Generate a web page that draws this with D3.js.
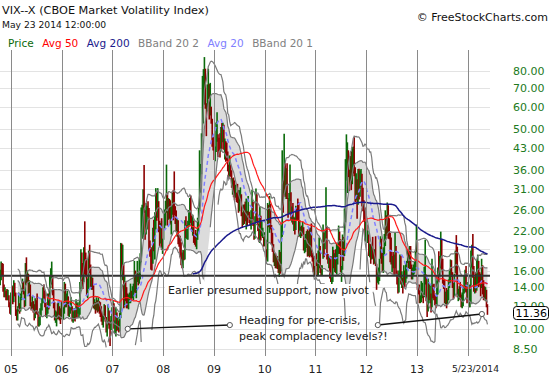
<!DOCTYPE html>
<html>
<head>
<meta charset="utf-8">
<script src="https://cdn.jsdelivr.net/npm/d3@7"></script>
<style>
  body { margin: 0; background: #fff; }
  svg { display: block; font-family: 'DejaVu Sans', Verdana, sans-serif; }
</style>
</head>
<body>
<div id="draw"></div>
<script>
// weekly VIX bars [high, low, close], one per Friday from Oct 8 2004 to May 23 2014
const w2004 = [[15.2,13.3,14.3],[16.1,14.2,15.0],[17.2,14.8,16.6],[17.0,15.4,16.3],[16.9,13.5,13.8],[14.3,12.9,13.3],[14.0,12.9,13.5],
  [13.6,12.6,13.0],[13.8,12.6,12.9],[13.7,12.6,12.9],[13.1,11.9,12.2],[12.4,11.3,11.8],[13.4,11.2,13.3]];
const w2005 = [[14.2,12.7,13.5],[14.1,12.2,12.4],[14.8,12.4,14.4],[14.5,13.0,13.3],[13.4,11.1,11.2],[11.7,10.7,11.0],[12.0,10.7,11.8],
  [13.4,11.5,12.0],[12.3,11.3,11.7],[13.3,11.5,13.0],[13.9,12.6,13.5],[15.0,13.5,14.3],[14.6,13.2,13.6],[13.8,11.9,12.0],
  [17.0,12.0,16.5],[17.8,14.4,15.1],[16.0,14.6,15.3],[15.6,13.2,13.4],[14.8,13.0,14.2],[14.3,12.0,12.2],[12.4,11.6,12.0],
  [13.0,11.8,12.3],[12.5,11.4,12.0],[12.2,10.7,11.0],[12.8,10.9,12.4],[12.6,11.3,11.9],[13.3,11.2,11.4],[11.5,10.2,10.3],
  [11.0,10.2,10.5],[11.8,10.3,11.6],[12.3,11.1,12.0],[12.8,11.6,12.5],[14.0,12.3,13.5],[14.3,12.8,13.2],[13.6,11.9,12.2],
  [12.4,11.0,11.2],[11.9,10.9,11.3],[13.3,11.3,12.9],[13.3,11.7,11.9],[15.3,12.0,14.1],[16.3,13.9,15.0],[17.2,14.3,15.5],
  [15.4,13.1,13.3],[13.8,11.8,12.1],[12.4,10.7,11.0],[11.6,10.5,11.2],[11.5,10.2,11.2],[12.3,10.8,11.0],[12.5,10.8,11.9],
  [12.0,10.7,11.0],[11.8,10.4,10.9],[12.4,10.8,12.1]];
const w2006 = [[12.5,10.8,11.1],[11.9,10.8,11.4],[14.6,11.3,14.3],[14.4,11.9,12.1],[13.3,11.9,12.8],[13.6,12.2,12.9],[13.0,11.1,11.3],
  [12.0,11.0,11.5],[12.5,11.3,12.0],[12.9,11.6,12.0],[12.0,10.6,10.9],[11.5,10.5,11.0],[11.8,10.7,11.4],[11.7,10.6,11.1],
  [12.7,11.0,11.9],[12.3,10.9,11.6],[12.4,11.3,11.6],[12.0,10.9,11.6],[14.6,11.2,14.2],[19.0,13.8,16.2],[18.5,14.7,15.0],
  [17.0,13.8,14.4],[19.3,14.6,17.9],[23.8,15.5,17.5],[18.5,15.2,15.5],[17.6,13.0,13.1],[15.0,12.8,14.2],[18.8,13.8,18.1],
  [19.7,15.7,16.7],[16.8,14.0,14.3],[15.3,13.7,14.4],[15.1,13.7,14.2],[14.2,11.8,12.0],[12.7,11.7,12.1],[12.4,11.3,11.9],
  [12.9,11.6,12.3],[12.6,11.4,11.8],[12.9,11.5,12.3],[12.5,11.3,11.9],[12.4,11.0,11.7],[12.0,10.6,11.0],[11.3,10.3,10.6],
  [11.2,10.1,10.8],[12.2,10.8,11.9],[12.1,10.6,11.0],[11.0,9.7,9.9],[10.6,9.4,10.4],[12.2,10.3,11.7],[11.6,10.0,10.3],
  [10.7,8.7,10.2],[11.1,9.9,10.9],[11.9,10.5,11.6]];
const w2007 = [[12.6,11.1,12.1],[12.3,10.0,10.1],[10.7,9.6,10.4],[11.9,9.4,11.3],[11.4,9.8,10.1],[11.0,9.9,10.5],[10.7,9.7,10.0],
  [11.4,9.8,11.2],[20.0,10.9,18.6],[19.9,15.5,16.8],[19.7,14.8,16.8],[16.8,11.8,12.1],[15.4,11.9,14.6],[14.7,12.5,12.7],
  [14.0,11.8,12.2],[13.3,11.8,12.1],[13.2,11.7,12.5],[13.4,12.3,12.9],[14.4,12.3,13.1],[13.6,12.5,12.8],[14.1,12.8,13.1],
  [14.4,12.6,13.1],[17.3,13.4,15.7],[16.0,13.2,13.3],[15.6,12.8,15.2],[17.3,14.6,15.2],[15.6,14.2,14.6],[17.7,14.4,15.0],
  [18.4,14.9,17.6],[26.6,17.1,24.2],[27.2,20.7,25.2],[30.8,20.9,27.7],[37.5,25.5,26.5],[26.0,20.5,20.7],[27.6,21.4,23.4],
  [27.0,22.3,26.2],[28.0,24.7,26.0],[26.5,18.9,19.0],[20.4,17.9,18.0],[19.0,16.1,17.6],[19.3,16.0,17.0],[22.6,16.9,22.0],
  [24.1,18.7,19.3],[25.6,17.5,23.2],[31.1,22.3,28.5],[29.9,23.9,25.5],[31.1,24.5,26.8],[28.0,21.8,22.9],[23.9,19.5,20.0],
  [23.5,19.9,22.6],[24.4,18.9,19.1],[20.7,18.3,20.3]];
const w2008 = [[23.9,20.5,23.2],[26.2,22.5,23.7],[28.1,23.0,27.2],[37.6,25.5,29.0],[30.0,23.0,24.0],[28.7,24.1,28.0],[28.5,24.3,25.0],
  [28.2,23.2,24.1],[26.9,21.4,26.5],[30.0,25.1,27.5],[30.6,24.0,27.0],[35.6,25.0,26.4],[26.9,23.3,25.7],[26.0,22.0,22.5],
  [24.4,21.0,23.0],[24.0,19.8,20.1],[21.1,19.4,19.5],[21.2,17.8,18.2],[20.1,16.7,18.0],[18.5,16.3,16.5],[18.9,16.3,18.0],
  [18.8,17.4,17.8],[24.0,17.5,23.6],[24.8,20.8,21.3],[23.1,20.6,22.3],[23.9,20.5,23.4],[26.1,22.8,24.0],[28.7,22.9,27.5],
  [29.3,23.5,24.0],[24.9,21.9,22.2],[25.1,21.2,22.6],[23.9,20.0,20.7],[21.5,19.7,20.0],[22.2,19.4,19.8],[21.6,19.0,20.6],
  [24.5,20.5,22.8],[26.6,21.9,25.7],[42.2,25.8,32.1],[37.8,30.0,34.7],[48.4,34.8,45.1],[76.9,47.1,69.9],[81.2,52.4,70.3],
  [89.5,61.0,79.1],[81.5,59.0,59.9],[61.7,47.3,56.1],[71.8,57.8,66.3],[81.5,63.9,72.7],[72.0,54.1,55.3],[72.7,55.9,59.9],
  [60.0,52.3,54.3],[54.4,43.4,44.9],[47.1,42.1,43.4]];
const w2009 = [[44.7,39.0,39.2],[43.5,38.6,42.8],[52.8,41.6,46.1],[57.4,45.2,47.3],[48.0,40.0,44.8],[46.7,42.0,43.4],[48.4,39.8,41.3],
  [50.9,41.8,49.6],[52.6,42.6,46.4],[52.7,45.0,49.3],[51.9,42.4,42.9],[46.4,39.2,45.9],[45.4,38.5,42.6],[44.9,38.8,39.7],
  [41.8,35.6,36.5],[37.6,33.5,33.9],[40.5,34.2,35.8],[37.6,34.1,35.3],[35.9,31.2,32.1],[33.7,29.5,33.1],[33.9,28.9,32.6],
  [33.1,28.2,28.9],[32.0,28.8,29.6],[30.0,27.8,28.2],[32.2,27.6,27.9],[30.6,25.5,25.9],[30.6,25.8,29.0],[31.3,28.1,29.0],
  [29.6,24.8,25.0],[25.6,22.6,23.1],[27.2,23.1,25.9],[27.3,23.3,25.0],[27.9,23.8,24.2],[28.6,22.3,25.0],[25.9,23.1,24.8],
  [29.2,25.0,25.3],[25.7,23.5,24.1],[24.6,22.9,23.9],[26.0,22.3,25.6],[30.7,24.0,28.7],[27.8,22.9,23.1],[23.7,20.5,21.4],
  [24.8,20.7,24.3],[31.0,23.5,30.7],[29.6,23.8,24.2],[24.5,22.0,22.7],[23.3,20.2,21.0],[26.9,20.0,24.7],[24.9,20.4,21.3],
  [23.8,21.1,21.6],[22.6,20.8,21.7],[21.0,19.4,19.5]];
const w2010 = [[21.8,19.5,21.7],[20.5,17.8,18.1],[19.0,17.3,17.9],[27.6,17.2,27.3],[27.2,22.7,24.6],[29.2,21.7,26.1],[27.4,22.3,22.7],
  [23.1,19.7,20.0],[21.7,18.6,19.5],[19.8,17.1,17.4],[18.4,16.6,17.6],[18.4,16.3,16.9],[18.0,16.3,17.7],[18.0,16.2,17.5],
  [17.5,15.7,16.1],[18.9,15.2,18.4],[18.6,15.6,16.6],[23.4,15.9,22.1],[42.2,21.0,40.9],[33.1,25.5,31.2],[48.2,29.5,40.1],
  [38.0,29.0,32.1],[36.5,28.5,35.5],[38.0,28.5,28.8],[28.7,24.5,24.9],[29.9,25.2,28.5],[37.6,28.0,30.1],[30.1,24.0,24.4],
  [26.8,23.6,26.3],[27.6,23.2,23.5],[24.7,22.0,23.5],[24.5,21.4,21.7],[27.0,22.2,26.2],[26.4,23.9,25.5],[28.6,24.0,24.5],
  [27.7,21.0,21.3],[24.0,21.1,21.9],[22.8,20.8,22.0],[23.0,21.1,21.7],[23.7,21.3,22.5],[22.7,18.8,18.9],[20.5,18.4,19.1],
  [21.5,18.6,19.7],[22.0,19.2,21.2],[22.3,17.9,18.3],[22.0,18.0,20.6],[22.6,17.8,18.0],[22.6,18.0,22.2],[23.4,17.8,17.9],
  [18.5,17.2,17.6],[18.0,15.8,16.1],[16.6,15.3,16.0],[18.0,15.5,17.8]];
const w2011 = [[18.4,16.6,17.1],[17.4,15.3,15.5],[18.8,15.3,18.5],[20.9,16.3,20.0],[19.5,15.7,15.9],[16.7,15.3,15.7],[16.7,15.4,16.4],
  [23.2,17.6,19.2],[21.7,17.8,19.0],[22.0,19.0,21.0],[31.3,20.7,24.3],[22.8,17.5,17.9],[18.3,16.9,17.4],[18.0,16.3,17.9],
  [17.9,15.0,15.3],[18.0,14.6,14.7],[15.4,14.3,14.8],[19.4,14.6,18.4],[18.9,16.3,17.1],[18.4,15.8,17.4],[19.0,15.7,15.9],
  [19.9,15.5,17.9],[19.9,16.8,18.9],[23.0,18.3,21.9],[21.9,18.3,19.2],[20.6,15.8,15.9],[16.6,14.6,16.0],[21.4,16.1,19.5],
  [21.0,17.3,17.5],[26.4,18.0,25.3],[39.3,23.6,32.0],[48.0,33.0,36.4],[45.0,29.9,43.1],[42.2,34.0,35.6],[36.1,30.4,33.9],
  [40.3,32.6,38.5],[41.9,30.6,31.0],[43.3,32.1,39.9],[43.5,35.0,43.0],[46.9,34.2,36.2],[36.8,27.8,28.2],[35.1,28.2,31.3],
  [33.4,24.3,24.5],[36.3,27.2,30.5],[36.4,28.4,30.0],[35.9,29.0,32.0],[36.3,31.5,34.5],[34.9,26.8,27.5],[31.2,25.8,26.4],
  [28.2,23.7,24.3],[26.6,20.4,20.7],[23.7,20.2,23.4]];
const w2012 = [[23.2,20.3,20.6],[22.1,20.0,20.9],[21.4,18.0,18.3],[19.9,17.8,18.5],[19.8,16.9,17.1],[19.8,17.5,19.0],[21.0,17.6,17.8],
  [19.0,16.8,17.3],[19.0,16.9,17.3],[21.1,16.6,17.1],[16.9,13.7,14.5],[16.0,14.5,15.0],[16.4,14.3,15.5],[17.6,14.7,16.7],
  [21.1,17.6,19.5],[20.7,16.9,17.4],[18.6,15.8,16.3],[19.3,15.7,19.2],[21.5,18.2,19.9],[26.0,19.5,25.1],[25.0,21.1,21.8],
  [27.7,21.2,26.7],[27.1,20.7,21.2],[24.4,20.6,21.1],[21.7,17.1,18.1],[20.9,16.8,17.1],[18.0,15.8,17.1],[18.6,16.3,16.7],
  [18.2,15.4,16.3],[21.8,16.3,16.7],[19.5,15.4,15.6],[16.0,14.3,14.7],[15.6,13.3,13.5],[16.0,13.4,15.2],[18.2,15.2,17.5],
  [18.0,14.3,14.4],[15.9,13.9,14.5],[15.1,13.3,14.0],[16.7,14.0,15.7],[16.0,14.0,14.3],[17.0,14.5,16.1],[17.3,15.0,17.1],
  [19.0,17.0,17.8],[18.9,16.3,17.6],[19.5,16.2,18.6],[19.5,16.2,16.4],[16.8,14.9,15.1],[16.4,14.9,15.7],[16.8,15.3,15.9],
  [17.3,15.6,17.0],[18.7,16.0,17.8],[23.2,18.5,22.7]];
const w2013 = [[20.1,13.7,13.8],[14.2,13.2,13.4],[14.3,12.3,12.5],[13.1,12.3,12.9],[14.7,12.4,12.9],[14.5,12.8,13.0],[13.3,12.3,12.5],
  [16.5,12.9,14.0],[20.5,14.3,15.4],[15.5,12.5,12.6],[12.5,11.0,11.3],[15.0,11.5,12.9],[14.4,12.6,12.7],[14.3,12.3,12.9],
  [13.3,11.4,12.1],[17.6,11.9,15.0],[14.3,12.8,13.6],[14.4,12.6,12.9],[13.2,12.1,12.6],[13.3,11.8,12.5],[15.3,12.1,13.0],
  [16.4,13.2,16.3],[18.7,14.6,15.1],[18.0,15.3,17.2],[21.9,16.3,18.9],[20.5,16.1,16.9],[17.6,14.4,14.9],[15.0,13.8,14.4],
  [14.9,12.3,12.5],[13.5,12.2,12.7],[13.9,11.8,12.0],[13.7,12.2,13.4],[14.9,12.6,14.4],[16.0,13.9,14.8],[17.5,14.5,17.0],
  [17.4,15.2,15.4],[15.8,13.9,14.2],[14.6,12.7,13.1],[15.6,13.0,15.5],[18.8,15.7,16.7],[21.3,15.4,15.7],[19.4,12.9,13.0],
  [13.8,12.5,13.1],[14.1,12.7,13.5],[14.6,12.6,12.9],[13.2,11.9,12.2],[13.4,11.8,12.3],[14.1,12.0,13.7],[15.3,13.3,13.8],
  [16.1,13.5,15.8],[16.6,13.4,13.8],[13.8,12.3,12.5]];
const w2014 = [[14.6,12.9,13.8],[14.2,11.9,12.1],[14.3,11.9,12.4],[18.8,12.3,18.1],[19.7,16.4,18.4],[21.5,15.1,15.3],[16.6,13.5,13.6],
  [15.2,13.3,14.7],[15.8,13.4,14.0],[17.4,13.6,14.1],[18.2,14.0,17.8],[17.3,14.0,15.0],[15.8,14.2,14.4],[15.6,13.0,14.0],
  [17.6,13.9,17.0],[16.7,13.2,13.4],[14.8,12.6,13.3],[14.1,12.6,12.9],[14.0,12.5,12.9],[13.7,11.9,12.4],[12.2,11.2,11.36]];

const yTicks = [8.5, 10, 12, 14, 16, 19, 22, 26, 31, 36, 43, 50, 60, 70, 80];
const xYears = [2005, 2006, 2007, 2008, 2009, 2010, 2011, 2012, 2013];
const legendItems = ['Price', 'Avg 50', 'Avg 200', 'BBand 20 2', 'Avg 20', 'BBand 20 1'];
const legendColors = ['#0a6a0a', '#ff0000', '#1a1a8c', '#808080', '#8080ff', '#808080'];
const supportLevel = 15.35;
const firstWeek = new Date(2004, 9, 8);
// annotation arrows: [date, value] pairs
const arrows = [
    [[new Date(2007, 3, 21), 10.0], [new Date(2009, 3, 25), 10.31]],
    [[new Date(2012, 2, 25), 10.31], [new Date(2014, 3, 13), 11.27]]
];

// parameters
let width = 550, height = 375;
let plot = { left: 0, right: 490, top: 50, bottom: 356 };
let bandFloor = 8.6;

let weeks = [].concat(w2004, w2005, w2006, w2007, w2008, w2009, w2010, w2011, w2012, w2013, w2014)
    .map((d, i) => ({ date: d3.timeDay.offset(firstWeek, 7 * i), high: d[0], low: d[1], close: d[2] }));

weeks.forEach((d, i) => {
    d.up = i == 0 ? true : d.close >= weeks[i - 1].close;
});

// moving averages and bollinger bands
function sma(n) {
    return weeks.map((d, i) => i < n - 1 ? null : d3.mean(weeks.slice(i - n + 1, i + 1), e => e.close));
}
let avg20 = sma(20), avg50 = sma(50), avg200 = sma(200);
let sd20 = weeks.map((d, i) => {
    if (i < 19) return null;
    let m = avg20[i];
    return Math.sqrt(d3.mean(weeks.slice(i - 19, i + 1), e => (e.close - m) * (e.close - m)));
});
let band = k => weeks.map((d, i) => avg20[i] == null ? null : {
    upper: avg20[i] + k * sd20[i],
    lower: avg20[i] - k * sd20[i]
});
let band1 = band(1), band2 = band(2);

let x = d3.scaleTime()
    .domain([new Date(2005, 0, 1), new Date(2013, 0, 1)])
    .range([11, 417]);
let y = d3.scaleLog()
    .domain([8.5, 80])
    .range([349, 71]);

let svg = d3.select('#draw').append('svg').attr('width', width).attr('height', height);

svg.append('defs').append('clipPath').attr('id', 'plotclip')
    .append('rect')
    .attr('x', plot.left).attr('y', plot.top)
    .attr('width', plot.right - plot.left).attr('height', plot.bottom - plot.top);

// horizontal grid
svg.append('g').selectAll('line')
    .data(yTicks)
    .enter()
    .append('line')
    .attr('x1', plot.left).attr('x2', plot.right)
    .attr('y1', d => Math.round(y(d)) + 0.5).attr('y2', d => Math.round(y(d)) + 0.5)
    .style('stroke', '#e3e3e3');

let g = svg.append('g').attr('clip-path', 'url(#plotclip)');

// band fill (lower edge held up when the band collapses during spikes)
let idx = weeks.map((d, i) => i);
g.append('path')
    .datum(idx.filter(i => band1[i] != null))
    .attr('d', d3.area()
        .x(i => x(weeks[i].date))
        .y0(i => y(Math.max(band1[i].lower, 0.45 * avg20[i], bandFloor)))
        .y1(i => y(band1[i].upper)))
    .style('fill', '#dcdcdc')
    .style('stroke', 'none');

// price bars
g.append('g').selectAll('line')
    .data(weeks)
    .enter()
    .append('line')
    .attr('x1', d => x(d.date)).attr('x2', d => x(d.date))
    .attr('y1', d => y(d.high)).attr('y2', d => y(d.low))
    .style('stroke', d => d.up ? '#0a6a0a' : '#8b0000')
    .style('stroke-width', 1.6);

function drawLine(values, color, w, dash, isBand) {
    g.append('path')
        .datum(idx.filter(i => values[i] != null))
        .attr('d', d3.line()
            .defined(i => !isBand || values[i] >= Math.max(bandFloor, 0.5 * avg20[i]))
            .x(i => x(weeks[i].date))
            .y(i => y(values[i])))
        .style('fill', 'none')
        .style('stroke', color)
        .style('stroke-width', w)
        .style('stroke-dasharray', dash || null);
}

// bands
drawLine(band2.map(d => d && d.upper), '#7a7a7a', 1.2, null, true);
drawLine(band2.map(d => d && d.lower), '#7a7a7a', 1.2, null, true);
drawLine(band1.map(d => d && d.upper), '#7a7a7a', 1.2, null, true);
drawLine(band1.map(d => d && d.lower), '#7a7a7a', 1.2, null, true);
// averages
drawLine(avg20, '#8080ff', 1.5, '4,3');
drawLine(avg50, '#ff1a1a', 1.2);
drawLine(avg200, '#1a1a8c', 1.5);

// support line
svg.append('line')
    .attr('x1', plot.left).attr('x2', plot.right)
    .attr('y1', y(supportLevel)).attr('y2', y(supportLevel))
    .style('stroke', '#333')
    .style('stroke-width', 2);

// white box behind the support note
let note = { x: 168, y: 294, text: 'Earlier presumed support, now pivot' };
let noteBox = svg.append('rect').style('fill', '#fff');

// vertical grid
let gridYears = xYears.concat([2014]);
svg.append('g').selectAll('line')
    .data(gridYears)
    .enter()
    .append('line')
    .attr('x1', d => Math.round(x(new Date(d, 0, 1))) + 0.5)
    .attr('x2', d => Math.round(x(new Date(d, 0, 1))) + 0.5)
    .attr('y1', plot.top).attr('y2', plot.bottom)
    .style('stroke', '#8a8a8a');

let noteText = svg.append('text')
    .attr('x', note.x).attr('y', note.y)
    .style('font-size', '11px')
    .style('fill', '#1a1a1a')
    .text(note.text);
let nb = noteText.node().getBBox();
noteBox.attr('x', nb.x - 3).attr('y', nb.y).attr('width', nb.width + 6).attr('height', nb.height + 1);

// lower note
svg.append('text')
    .attr('x', 239).attr('y', 324)
    .style('font-size', '11px').style('fill', '#1a1a1a')
    .selectAll('tspan')
    .data(['Heading for pre-crisis,', 'peak complacency levels?!'])
    .enter()
    .append('tspan')
    .attr('x', 239)
    .attr('dy', (d, i) => i == 0 ? 0 : 15.5)
    .text(d => d);

// arrows
let ag = svg.append('g');
arrows.forEach(a => {
    ag.append('line')
        .attr('x1', x(a[0][0])).attr('y1', y(a[0][1]))
        .attr('x2', x(a[1][0])).attr('y2', y(a[1][1]))
        .style('stroke', '#111')
        .style('stroke-width', 1.4);
    a.forEach(p => {
        ag.append('circle')
            .attr('cx', x(p[0])).attr('cy', y(p[1]))
            .attr('r', 2.6)
            .style('fill', '#fff')
            .style('stroke', '#555')
            .style('stroke-width', 1);
    });
});

// y labels
svg.append('g').selectAll('text')
    .data(yTicks)
    .enter()
    .append('text')
    .attr('x', 513)
    .attr('y', d => y(d) + 4)
    .style('font-size', '11px')
    .style('fill', '#217a21')
    .text(d => d.toFixed(2));

// last price box (drawn over the 12.00 label as in the source)
let last = weeks[weeks.length - 1];
let pb = svg.append('g').attr('transform', 'translate(513,' + y(last.close) + ')');
pb.append('rect')
    .attr('x', 0.5).attr('y', -6.5)
    .attr('width', 35).attr('height', 13)
    .attr('rx', 3)
    .style('fill', '#fff')
    .style('stroke', '#000');
pb.append('text')
    .attr('x', 2.5).attr('y', 4)
    .style('font-size', '11px')
    .style('fill', '#000')
    .text(last.close.toFixed(2));

// x labels
svg.append('g').selectAll('text')
    .data(xYears)
    .enter()
    .append('text')
    .attr('x', d => x(new Date(d, 0, 1)))
    .attr('y', 373)
    .attr('text-anchor', 'middle')
    .style('font-size', '11px')
    .style('fill', '#222')
    .text(d => String(d).slice(2));
svg.append('text')
    .attr('x', x(last.date) - 12)
    .attr('y', 372)
    .attr('text-anchor', 'middle')
    .style('font-size', '9.2px')
    .style('fill', '#222')
    .text(d3.timeFormat('%-m/%-d/%Y')(last.date));

// title
svg.append('text').attr('x', 2).attr('y', 13.5)
    .style('font-size', '11.3px').style('fill', '#111')
    .text('VIX--X (CBOE Market Volatility Index)');
svg.append('text').attr('x', 2).attr('y', 28.3)
    .style('font-size', '9.2px').style('fill', '#111')
    .text('May 23 2014 12:00:00');
svg.append('text').attr('x', 548).attr('y', 20.5)
    .attr('text-anchor', 'end')
    .style('font-size', '11px').style('fill', '#111')
    .text('\u00a9 FreeStockCharts.com');

// legend
let lx = 8;
legendItems.forEach((t, i) => {
    let tx = svg.append('text')
        .attr('x', lx).attr('y', 47)
        .style('font-size', '10.5px')
        .style('fill', legendColors[i])
        .text(t);
    lx += tx.node().getComputedTextLength() + 8.5;
});
</script>
</body>
</html>
